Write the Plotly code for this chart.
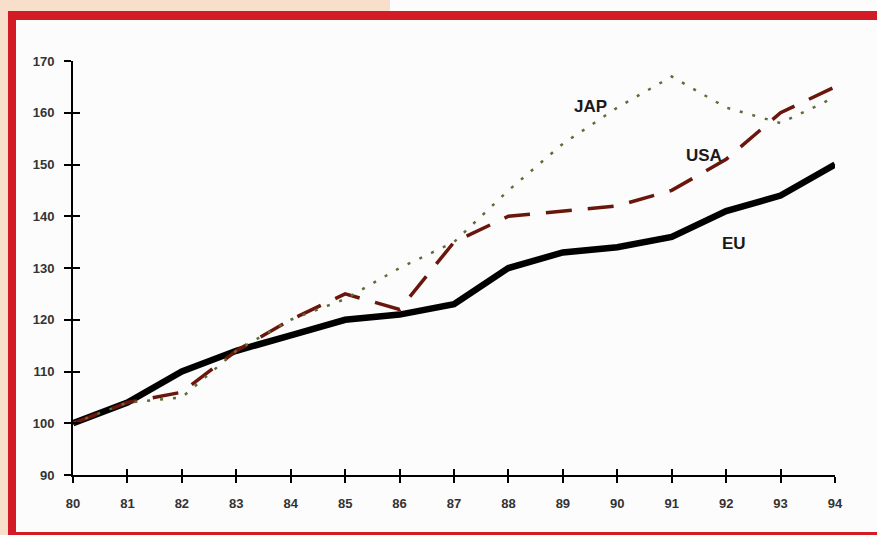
import plotly.graph_objects as go

# Index values (1980 = 100)
years = [80, 81, 82, 83, 84, 85, 86, 87, 88, 89, 90, 91, 92, 93, 94]
eu = [100, 104, 110, 114, 117, 120, 121, 123, 130, 133, 134, 136, 141, 144, 150]
usa = [100, 104, 106, 114, 120, 125, 122, 135, 140, 141, 142, 145, 151, 160, 165]
jap = [100, 104, 105, 114, 120, 124, 130, 135, 145, 154, 161, 167, 161, 158, 163]

x_ticks = years
y_ticks = [90, 100, 110, 120, 130, 140, 150, 160, 170]

W, H = 877, 535
L, R, T, B = 73, 42, 61, 60
PW, PH = W - L - R, H - T - B


def px(x):
    return (x - L) / PW


def py(y):
    return (H - B - y) / PH


fig = go.Figure()
fig.add_trace(go.Scatter(x=years, y=eu, mode="lines", name="EU",
                         line=dict(color="#000000", width=6.5), hoverinfo="skip"))
fig.add_trace(go.Scatter(x=years, y=usa, mode="lines", name="USA",
                         line=dict(color="#6a160b", width=3.5, dash="26px,16px"),
                         hoverinfo="skip"))
fig.add_trace(go.Scatter(x=years, y=jap, mode="lines", name="JAP", xaxis="x2", yaxis="y2",
                         line=dict(color="#5d6c38", width=2.5, dash="3px,10px"),
                         hoverinfo="skip"))

tick_font = dict(family="Liberation Sans, Arial", size=13, color="#333333", weight="bold")
fig.update_layout(
    width=W, height=H,
    margin=dict(l=L, r=R, t=T, b=B),
    paper_bgcolor="#fcfcfc",
    plot_bgcolor="rgba(0,0,0,0)",
    showlegend=False,
    xaxis=dict(range=[80, 94], tickvals=x_ticks, ticktext=[str(v) for v in x_ticks],
               showgrid=False, zeroline=False, showline=True, linecolor="#000", linewidth=2,
               ticks="outside", ticklen=6, tickwidth=2, tickcolor="#000",
               tickfont=tick_font, ticklabelstandoff=9),
    yaxis=dict(range=[90, 170], tickvals=y_ticks,
               showgrid=False, zeroline=False, showline=True, linecolor="#000", linewidth=2,
               ticks="outside", ticklen=7, tickwidth=2, tickcolor="#000",
               tickfont=tick_font, ticklabelstandoff=7),
    xaxis2=dict(range=[80, 94], overlaying="x", anchor="y2", tickvals=x_ticks,
                showticklabels=False, showgrid=False, zeroline=False, showline=False,
                ticks="inside", ticklen=6, tickwidth=2, tickcolor="#000"),
    yaxis2=dict(range=[90, 170], overlaying="y", anchor="x2", tickvals=y_ticks,
                showticklabels=False, showgrid=False, zeroline=False, showline=False,
                ticks="inside", ticklen=7, tickwidth=2, tickcolor="#000"),
)

label_font = dict(family="Liberation Sans, Arial", size=17, color="#1a1a1a", weight="bold")
for text, xv, yv in [("JAP", 89.5, 161.3), ("USA", 91.6, 151.8), ("EU", 92.15, 134.8)]:
    fig.add_annotation(x=xv, y=yv, text=text, showarrow=False, font=label_font,
                       xanchor="center", yanchor="middle")

# Frame around the chart
peach = "#f8dfcb"
red = "#d21b24"
frame = [
    (0, 0, 8, H, peach),
    (0, 0, 390, 11, peach),
    (8, 11, W + 5, 20, red),
    (8, 11, 16, H + 5, red),
    (8, 532, W + 5, H + 5, red),
]
for x0, y0, x1, y1, c in frame:
    fig.add_shape(type="rect", xref="paper", yref="paper",
                  x0=px(x0), x1=px(x1), y0=py(y0), y1=py(y1),
                  fillcolor=c, line_width=0, layer="above")

fig.write_html("out.html")
